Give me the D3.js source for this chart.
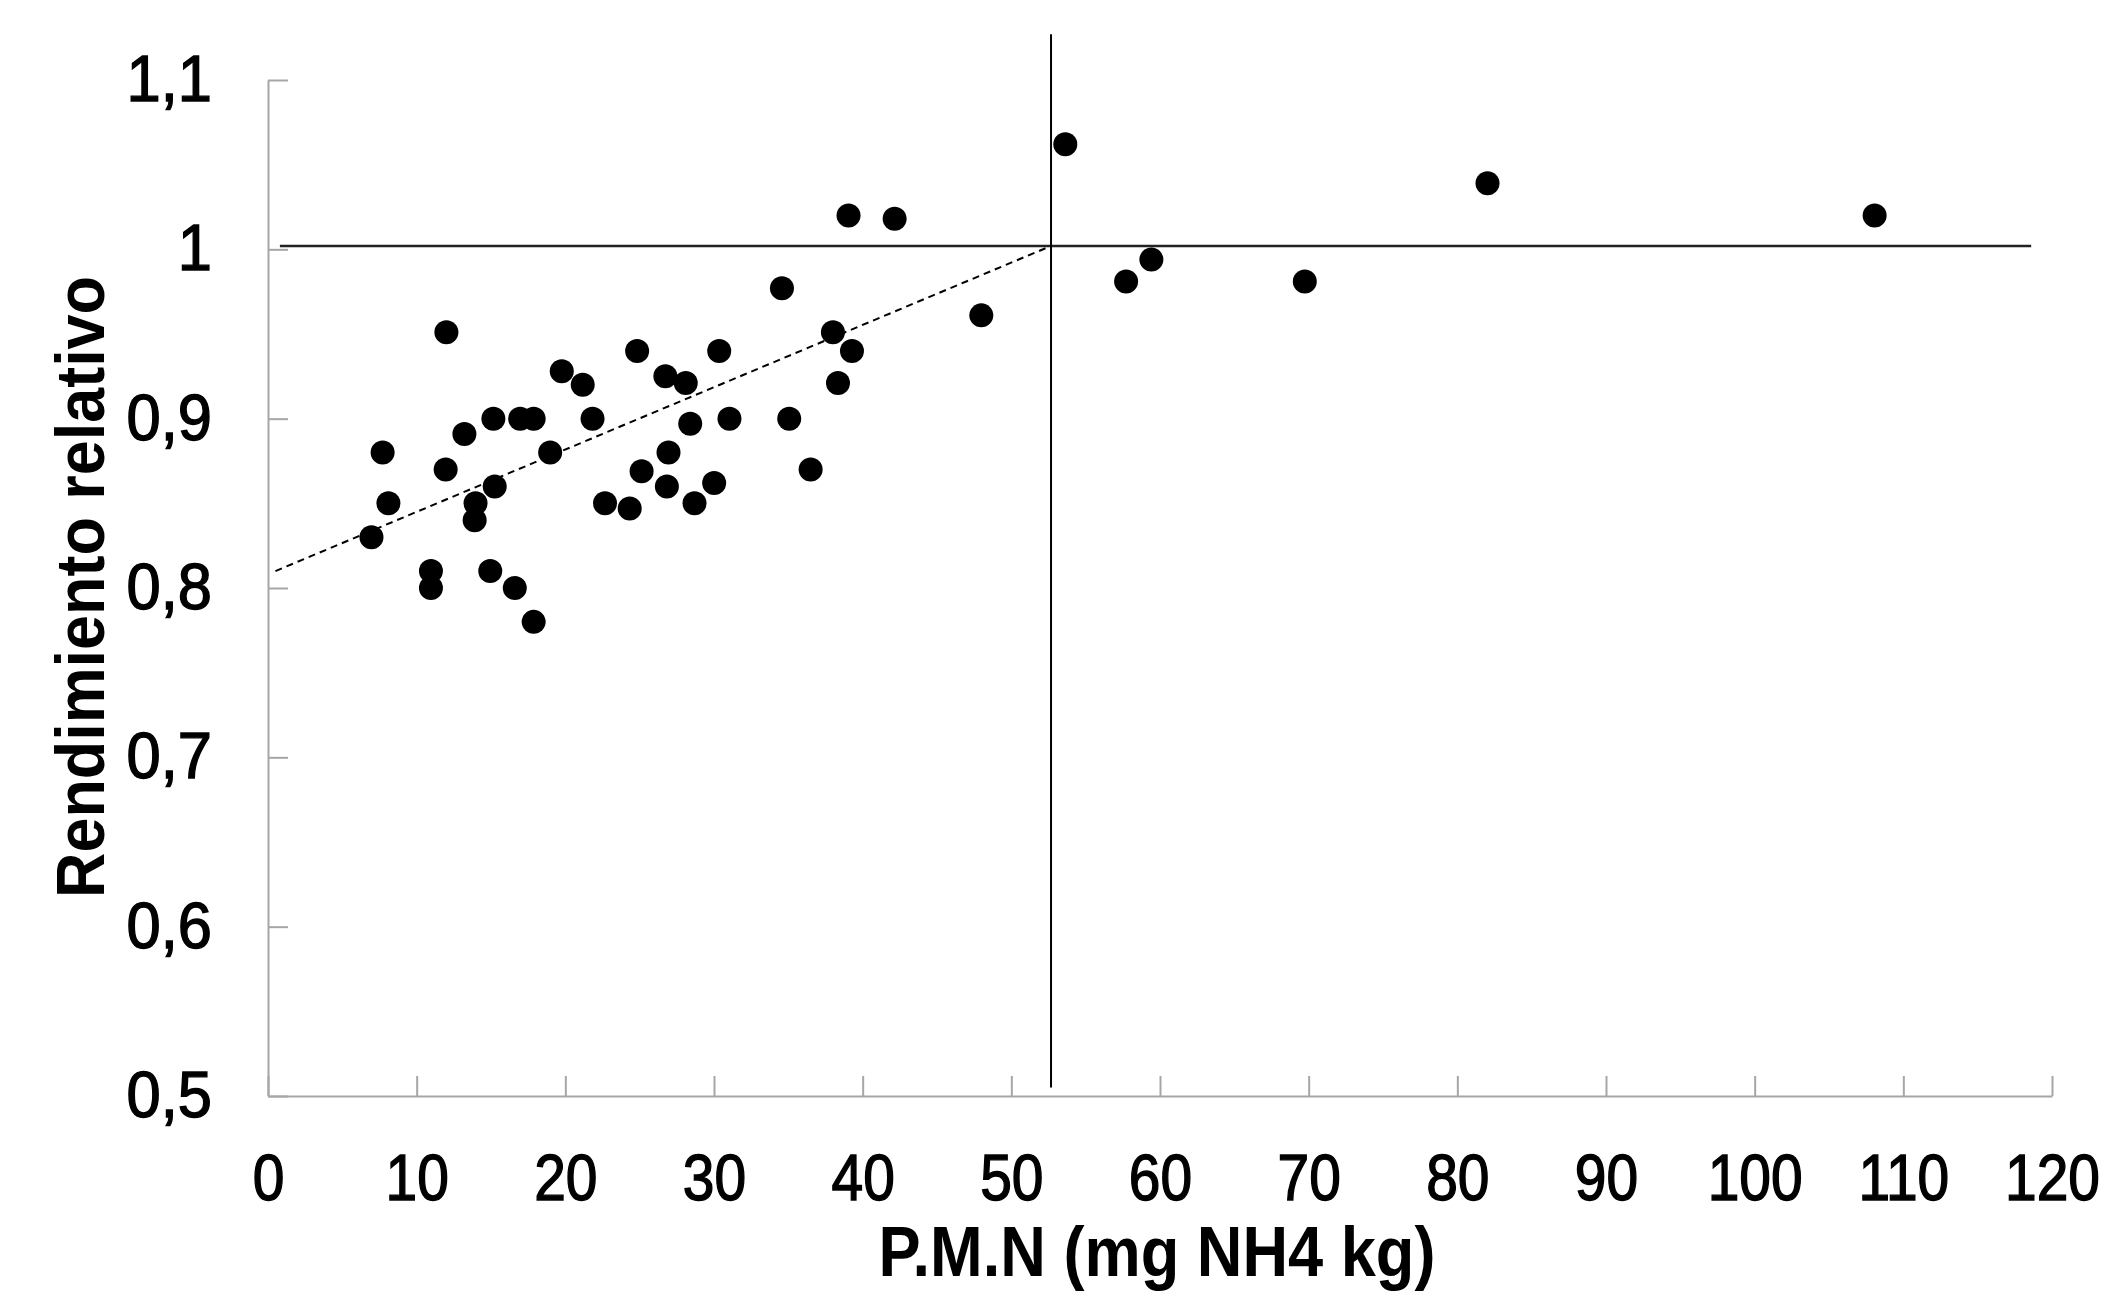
<!doctype html>
<html>
<head>
  <style>
    body { margin: 0; background: #fff; }
    svg { display: block; }
  </style>
  <script src="https://cdn.jsdelivr.net/npm/d3@7"></script>
</head>
<body>
  <script>
  // P.M.N values (x) and relative yield (y)
  var pmn = [6.96, 7.71, 8.1, 10.96, 10.96, 12.0, 11.95, 13.21, 13.96, 13.9,
             14.95, 15.16, 15.25, 16.6, 16.96, 17.87, 17.87, 18.98, 19.76, 21.17,
             21.83, 22.67, 24.33, 24.83, 25.13, 26.73, 26.83, 26.94, 28.1, 28.4,
             28.69, 30.01, 30.35, 31.04, 34.57, 35.06, 36.5, 38.0, 38.34, 39.28,
             39.05, 42.15, 47.98, 53.63, 57.72, 59.42, 69.74, 82.03, 108.07];
  var rend = [0.83, 0.88, 0.85, 0.81, 0.80, 0.951, 0.87, 0.891, 0.85, 0.84,
              0.81, 0.90, 0.86, 0.80, 0.90, 0.90, 0.78, 0.88, 0.928, 0.92,
              0.90, 0.85, 0.847, 0.94, 0.869, 0.925, 0.86, 0.88, 0.921, 0.897,
              0.85, 0.862, 0.94, 0.90, 0.977, 0.90, 0.87, 0.951, 0.921, 0.94,
              1.02, 1.018, 0.961, 1.062, 0.981, 0.994, 0.981, 1.039, 1.02];

  var xTicks = [0, 10, 20, 30, 40, 50, 60, 70, 80, 90, 100, 110, 120];
  var yTicks = [0.5, 0.6, 0.7, 0.8, 0.9, 1.0, 1.1];
  var yTickLabels = ["0,5", "0,6", "0,7", "0,8", "0,9", "1", "1,1"];

  // reference lines: critical level and the trend up to it
  var critX = 52.67;
  var refY = 1.002;
  var hLine = [[0.8, refY], [118.6, refY]];
  var vLine = [[critX, 1.127], [critX, 0.505]];
  var trend = [[0.5, 0.81], [critX, refY]];

  var svgW = 2128, svgH = 1291;

  var svg = d3.select("body")
            .append("svg")
            .attr("width", svgW)
            .attr("height", svgH);

  svg.append("rect").attr("width", svgW).attr("height", svgH).attr("fill", "#fff");

  var x = d3.scaleLinear().domain([0, 120]).range([268, 2052]);
  var y = d3.scaleLinear().domain([0.5, 1.1]).range([1096, 80]);

  var font = "'Liberation Sans', Arial, sans-serif";

  // axes - ticks point inward, grey lines
  var xAxis = svg.append("g")
      .attr("transform", "translate(0," + y(0.5) + ")")
      .call(d3.axisBottom(x).tickValues(xTicks).tickSizeInner(-20).tickSizeOuter(0).tickPadding(59));

  var yAxis = svg.append("g")
      .attr("transform", "translate(" + x(0) + ",0)")
      .call(d3.axisLeft(y).tickValues(yTicks)
            .tickFormat(function(d, i) { return yTickLabels[i]; })
            .tickSizeInner(-20).tickSizeOuter(0).tickPadding(56));

  [xAxis, yAxis].forEach(function(ax) {
    ax.select(".domain").attr("stroke", "#a6a6a6").attr("stroke-width", 2);
    ax.selectAll(".tick line").attr("stroke", "#a6a6a6").attr("stroke-width", 2);
    ax.selectAll(".tick text")
      .attr("fill", "#000")
      .attr("stroke", "#000")
      .attr("stroke-width", 1.4)   // digits in the picture are a little heavier
      .attr("font-family", font)
      .attr("font-size", "64px");
  });

  // the labels in the picture are a bit narrower than Arial
  xAxis.selectAll(".tick text").each(function() {
    var w = this.getComputedTextLength();
    d3.select(this).attr("textLength", w * 0.89).attr("lengthAdjust", "spacingAndGlyphs");
  });
  yAxis.selectAll(".tick text").each(function() {
    var w = this.getComputedTextLength();
    d3.select(this).attr("textLength", w * 0.96).attr("lengthAdjust", "spacingAndGlyphs");
  });

  var line = d3.line()
      .x(function(d) { return x(d[0]); })
      .y(function(d) { return y(d[1]); });

  svg.append("path").datum(hLine).attr("d", line)
     .attr("stroke", "#222").attr("stroke-width", 2.5).attr("fill", "none");
  svg.append("path").datum(vLine).attr("d", line)
     .attr("stroke", "#000").attr("stroke-width", 2).attr("fill", "none");
  svg.append("path").datum(trend).attr("d", line)
     .attr("stroke", "#000").attr("stroke-width", 2)
     .attr("stroke-dasharray", "7,5").attr("fill", "none");

  // points
  svg.selectAll("circle.pt")
      .data(pmn)
      .enter()
      .append("circle")
      .attr("class", "pt")
      .attr("cx", function(d) { return x(d); })
      .attr("cy", function(d, i) { return y(rend[i]); })
      .attr("r", 12)
      .attr("fill", "#000");

  // axis titles
  svg.append("text")
     .text("P.M.N (mg NH4 kg)")
     .attr("x", 1157)
     .attr("y", 1276)
     .attr("text-anchor", "middle")
     .attr("font-family", font)
     .attr("font-weight", "bold")
     .attr("font-size", "70px")
     .attr("textLength", 557)
     .attr("lengthAdjust", "spacingAndGlyphs");

  svg.append("text")
     .text("Rendimiento relativo")
     .attr("transform", "translate(104,587) rotate(-90)")
     .attr("text-anchor", "middle")
     .attr("font-family", font)
     .attr("font-weight", "bold")
     .attr("font-size", "69px")
     .attr("textLength", 622)
     .attr("lengthAdjust", "spacingAndGlyphs");
  </script>
</body>
</html>
